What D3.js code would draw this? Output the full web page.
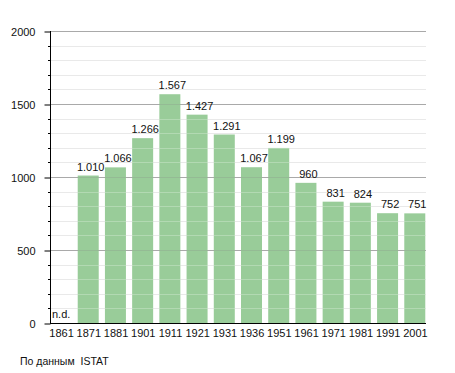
<!DOCTYPE html>
<html>
<head>
<meta charset="utf-8">
<script src="https://cdn.jsdelivr.net/npm/d3@7"></script>
<style>
  body { margin: 0; background: #fff; }
  svg { display: block; font-family: "Liberation Sans", Arial, sans-serif; }
</style>
</head>
<body>
<svg id="chart" width="455" height="373"></svg>
<script>
// census years and population (1861 has no data)
var years = ["1861", "1871", "1881", "1901", "1911", "1921", "1931", "1936", "1951", "1961", "1971", "1981", "1991", "2001"];
var population = [null, 1010, 1066, 1266, 1567, 1427, 1291, 1067, 1199, 960, 831, 824, 752, 751];
var majorTicks = [0, 500, 1000, 1500, 2000];
var minorTicks = d3.range(0, 2001, 100);

var svg = d3.select("#chart");

var plotLeft = 50, plotRight = 431, plotTop = 31, plotBottom = 323;

var x = d3.scaleBand()
    .domain(years)
    .range([plotLeft, plotRight])
    .paddingInner(0)
    .paddingOuter(0);

var y = d3.scaleLinear()
    .domain([0, 2000])
    .range([plotBottom, plotTop]);

var barW = 21;

// minor gridlines
svg.append("g")
    .selectAll("line")
    .data(minorTicks.filter(function(d){ return d % 500 != 0; }))
    .enter()
    .append("line")
    .attr("x1", plotLeft).attr("x2", 426)
    .attr("y1", function(d){ return Math.round(y(d)) + 0.5; })
    .attr("y2", function(d){ return Math.round(y(d)) + 0.5; })
    .attr("stroke", "#e2e2e2");

// major gridlines
svg.append("g")
    .selectAll("line")
    .data(majorTicks.slice(1))
    .enter()
    .append("line")
    .attr("x1", plotLeft).attr("x2", 426)
    .attr("y1", function(d){ return Math.round(y(d)) + 0.5; })
    .attr("y2", function(d){ return Math.round(y(d)) + 0.5; })
    .attr("stroke", "#b4b4b4");

// bars
var data = years.map(function(d, i){ return {year: d, value: population[i]}; });

svg.append("g")
    .selectAll("rect")
    .data(data.filter(function(d){ return d.value != null; }))
    .enter()
    .append("rect")
    .attr("x", function(d){ return x(d.year) + 0.5; })
    .attr("width", barW)
    .attr("y", function(d){ return y(d.value); })
    .attr("height", function(d){ return plotBottom - y(d.value); })
    .attr("fill", "#99cc99");

// faint gridlines over bars
svg.append("g")
    .selectAll("line")
    .data(minorTicks.slice(1))
    .enter()
    .append("line")
    .attr("x1", plotLeft).attr("x2", 426)
    .attr("y1", function(d){ return Math.round(y(d)) + 0.5; })
    .attr("y2", function(d){ return Math.round(y(d)) + 0.5; })
    .attr("stroke", function(d){ return d % 500 == 0 ? "#888" : "#fff"; })
    .attr("stroke-opacity", 0.25);

// value labels
svg.append("g")
    .selectAll("text")
    .data(data)
    .enter()
    .append("text")
    .attr("x", function(d){ return d.value == null ? x(d.year) + 2 : x(d.year) + barW / 2 + 3; })
    .attr("y", function(d){ return d.value == null ? plotBottom - 5 : y(d.value) - 5; })
    .attr("text-anchor", function(d){ return d.value == null ? "start" : "middle"; })
    .attr("font-size", "11px")
    .attr("fill", "#111")
    .text(function(d){ return d.value == null ? "n.d." : d3.format(",")(d.value).replace(",", "."); });

// y axis
var yAxis = d3.axisLeft(y).tickValues(majorTicks).tickFormat(d3.format("d")).tickSize(6).tickPadding(8);
var gy = svg.append("g").attr("transform", "translate(" + (plotLeft + 0.5) + ",0.5)").call(yAxis);
gy.select(".domain").remove();
gy.selectAll("text").attr("font-size", "11px").attr("fill", "#111").attr("font-family", "Liberation Sans, Arial, sans-serif").attr("dx", "-1");

svg.append("g")
    .selectAll("line")
    .data(minorTicks.filter(function(d){ return d % 500 != 0; }))
    .enter()
    .append("line")
    .attr("x1", plotLeft - 2).attr("x2", plotLeft)
    .attr("y1", function(d){ return Math.round(y(d)) + 0.5; })
    .attr("y2", function(d){ return Math.round(y(d)) + 0.5; })
    .attr("stroke", "#000");

svg.append("line")
    .attr("x1", plotLeft + 0.5).attr("x2", plotLeft + 0.5)
    .attr("y1", plotTop).attr("y2", plotBottom + 1)
    .attr("stroke", "#000");

// x axis
var xAxis = d3.axisBottom(x).tickSize(0).tickPadding(6);
var gx = svg.append("g").attr("transform", "translate(-2," + (plotBottom + 0.5) + ")").call(xAxis);
gx.select(".domain").remove();
gx.selectAll("text").attr("font-size", "11px").attr("fill", "#111").attr("font-family", "Liberation Sans, Arial, sans-serif");

svg.append("line")
    .attr("x1", plotLeft).attr("x2", 426)
    .attr("y1", plotBottom + 0.5).attr("y2", plotBottom + 0.5)
    .attr("stroke", "#000");

svg.append("text")
    .attr("x", 20)
    .attr("y", 365)
    .attr("font-size", "10.5px")
    .attr("fill", "#111")
    .style("white-space", "pre")
    .text("По данным  ISTAT");
</script>
</body>
</html>
